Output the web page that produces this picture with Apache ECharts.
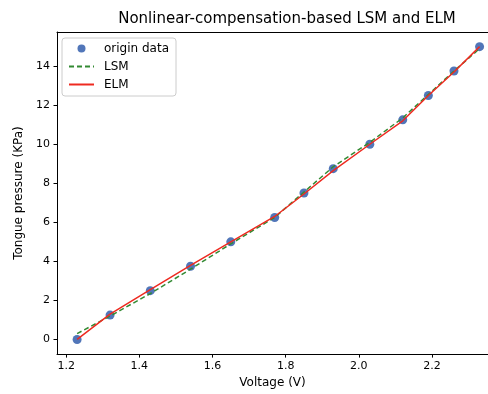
<!DOCTYPE html>
<html>
<head>
<meta charset="utf-8">
<script src="https://cdn.jsdelivr.net/npm/echarts@6/dist/echarts.min.js"></script>
<style>
  html, body { margin: 0; padding: 0; background: #fff; }
  #chart { width: 488px; height: 394px; }
</style>
</head>
<body>
<div id="chart"></div>
<script>
// measured voltages and pressures
const voltage = [1.23, 1.32, 1.43, 1.54, 1.65, 1.77, 1.85, 1.93, 2.03, 2.12, 2.19, 2.26, 2.33];
const originData = [0, 1.25, 2.5, 3.75, 5, 6.25, 7.5, 8.75, 10, 11.25, 12.5, 13.75, 15];
const lsmFit = [0.3, 1.2, 2.35, 3.6, 4.9, 6.25, 7.55, 8.85, 10.1, 11.35, 12.55, 13.75, 14.9];
const elmFit = [0.0, 1.3, 2.55, 3.8, 5.0, 6.3, 7.45, 8.65, 10.0, 11.2, 12.5, 13.7, 15.0];

const xTicks = [1.2, 1.4, 1.6, 1.8, 2.0, 2.2];
const yTicks = [0, 2, 4, 6, 8, 10, 12, 14];

const pair = (ys) => voltage.map((v, i) => [v, ys[i]]);

const chart = echarts.init(document.getElementById('chart'));

const font = 'DejaVu Sans';
const axisText = { color: '#000', fontSize: 11, fontFamily: font };
const nameText = { color: '#000', fontSize: 12, fontFamily: font };
const hidden = { opacity: 0 };

const option = {
  animation: false,
  title: {
    text: 'Nonlinear-compensation-based LSM and ELM',
    left: 282,
    textAlign: 'center',
    top: 7,
    textStyle: { fontSize: 15, fontWeight: 'normal', color: '#000', fontFamily: font }
  },
  legend: {
    orient: 'vertical',
    left: 62,
    top: 38,
    padding: [4, 7, 5, 6],
    itemGap: 5,
    itemWidth: 25,
    itemHeight: 8,
    borderColor: '#ccc',
    borderWidth: 1,
    borderRadius: 3,
    backgroundColor: '#fff',
    textStyle: { color: '#000', fontSize: 12, lineHeight: 13, fontFamily: font, padding: [0, 0, 0, 5] },
    data: [
      { name: 'origin data' },
      { name: 'LSM', itemStyle: hidden },
      { name: 'ELM', itemStyle: hidden }
    ]
  },
  grid: {
    left: 57,
    right: 0,
    top: 32,
    bottom: 39
  },
  xAxis: [
    {
      type: 'value',
      min: 1.175,
      max: 2.353,
      name: 'Voltage (V)',
      nameLocation: 'middle',
      nameGap: 22,
      nameTextStyle: nameText,
      splitLine: { show: false },
      axisLine: { show: true, onZero: false, lineStyle: { color: '#000' } },
      axisTick: { show: true, length: 3.5, customValues: xTicks, lineStyle: { color: '#000' } },
      axisLabel: Object.assign({ customValues: xTicks, margin: 7, formatter: (v) => v.toFixed(1) }, axisText)
    },
    {
      // top spine only
      type: 'value',
      position: 'top',
      min: 1.175,
      max: 2.353,
      splitLine: { show: false },
      axisLine: { show: true, onZero: false, lineStyle: { color: '#000' } },
      axisTick: { show: false },
      axisLabel: { show: false }
    }
  ],
  yAxis: {
    type: 'value',
    min: -0.75,
    max: 15.75,
    name: 'Tongue pressure (KPa)',
    nameLocation: 'middle',
    nameGap: 30,
    nameTextStyle: nameText,
    splitLine: { show: false },
    axisLine: { show: true, onZero: false, lineStyle: { color: '#000' } },
    axisTick: { show: true, length: 3.5, customValues: yTicks, lineStyle: { color: '#000' } },
    axisLabel: Object.assign({ customValues: yTicks, margin: 7 }, axisText)
  },
  series: [
    {
      name: 'origin data',
      type: 'scatter',
      data: pair(originData),
      symbolSize: 9,
      itemStyle: { color: '#2654a8' },
      z: 2
    },
    {
      name: 'LSM',
      type: 'line',
      data: pair(lsmFit),
      symbol: 'none',
      lineStyle: { color: '#338a33', width: 1.5, type: [5, 3] },
      itemStyle: { color: '#338a33' },
      z: 3
    },
    {
      name: 'ELM',
      type: 'line',
      data: pair(elmFit),
      symbol: 'none',
      lineStyle: { color: '#ee2a20', width: 1.5 },
      itemStyle: { color: '#ee2a20' },
      z: 4
    }
  ]
};

chart.setOption(option);
</script>
</body>
</html>
